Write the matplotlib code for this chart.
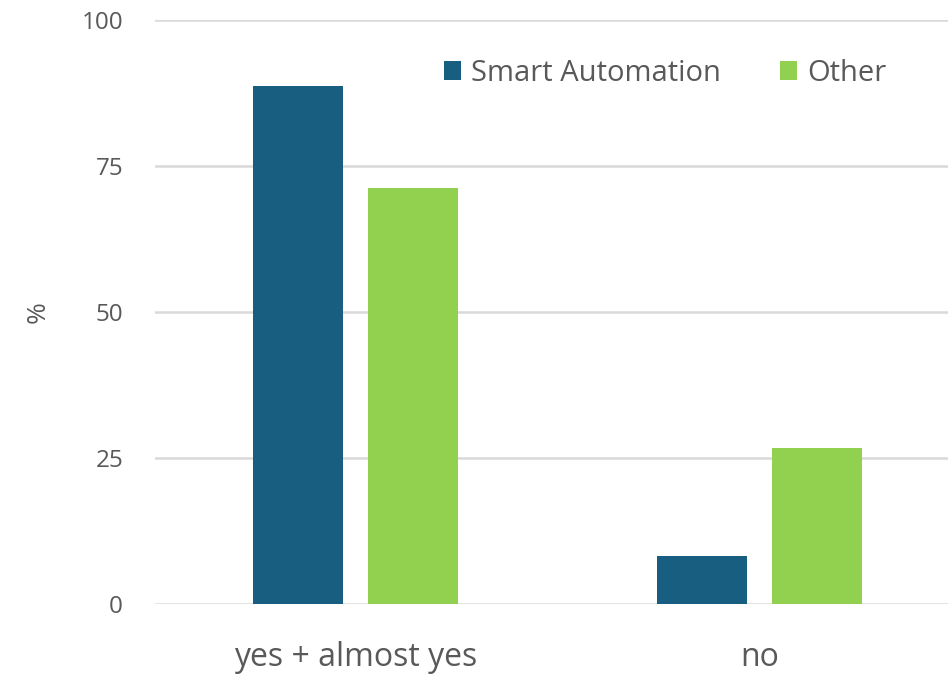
import matplotlib.pyplot as plt
import numpy as np

categories = ['yes + almost yes', 'no']
smart_automation = [88.7, 8.2]
other = [71.2, 26.7]
y_ticks = [0, 25, 50, 75, 100]

plt.rcParams['font.family'] = ['Open Sans', 'DejaVu Sans']
text_color = '#595959'

fig = plt.figure(figsize=(9.53, 6.74), dpi=100)
ax = fig.add_axes([0.1626, 0.1039, 0.8324, 0.8665])

x = np.arange(len(categories))
w = 0.223
ax.bar(x - 0.143, smart_automation, w, color='#175E81', label='Smart Automation', zorder=3)
ax.bar(x + 0.143, other, w, color='#92D050', label='Other', zorder=3)

ax.set_xlim(-0.496, 1.467)
ax.set_ylim(0, 100)
ax.set_yticks(y_ticks)
ax.set_xticks(x)
ax.set_xticklabels(categories, fontsize=23, color=text_color)
ax.tick_params(axis='y', labelsize=17.5, colors=text_color, length=0, pad=23)
ax.tick_params(axis='x', length=0, pad=27)
ax.grid(axis='y', color='#d9d9d9', linewidth=1.8, zorder=0)
ax.set_axisbelow(True)
for s in ax.spines.values():
    s.set_visible(False)

ax.set_ylabel('%', fontsize=19, color=text_color, labelpad=22)

leg = ax.legend(loc='center left', bbox_to_anchor=(0.364, 0.909), ncol=2, frameon=False,
                fontsize=21, handlelength=0.6, handleheight=0.6, handletextpad=0.35,
                columnspacing=2.0, borderaxespad=0, borderpad=0)
for t in leg.get_texts():
    t.set_color(text_color)

plt.savefig('out.png')
plt.close()
